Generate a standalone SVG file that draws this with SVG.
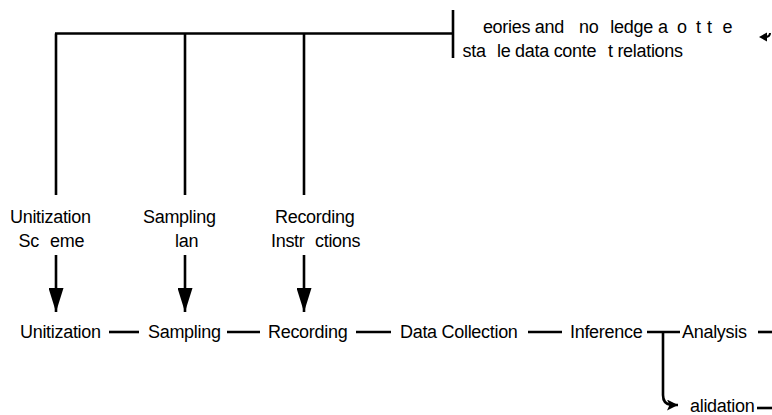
<svg xmlns="http://www.w3.org/2000/svg" width="772" height="415" viewBox="0 0 772 415">
  <style>
    text { font-family: "Liberation Sans", Arial, sans-serif; font-size: 18px; letter-spacing: -0.3px; fill: #000; }
    .ln { fill: none; stroke: #000; stroke-width: 2.6; }
  </style>
  <defs>
    <marker id="bigArrow" markerUnits="userSpaceOnUse" markerWidth="24" markerHeight="15" refX="24" refY="7.5" orient="auto" viewBox="0 0 24 15">
      <path d="M0,0 L24,7.5 L0,15 Z" fill="#000"/>
    </marker>
    <marker id="smallArrow" markerUnits="userSpaceOnUse" markerWidth="11" markerHeight="11" refX="11" refY="5.5" orient="auto" viewBox="0 0 11 11">
      <path d="M0,0 L11,5.5 L0,11 L2.5,5.5 Z" fill="#000"/>
    </marker>
  </defs>
  <rect width="772" height="415" fill="#fff"/>

  <!-- connectors -->
  <g id="connectors">
    <!-- top bus feeding the three input columns -->
    <path class="ln" d="M55,33.5 H453"/>
    <path class="ln" d="M453,10 V58"/>
    <path class="ln" d="M56,33.5 V195"/>
    <path class="ln" d="M185,33.5 V195"/>
    <path class="ln" d="M304,33.5 V195"/>
    <!-- input arrows into the process row -->
    <path class="ln" d="M56,255 V312" marker-end="url(#bigArrow)"/>
    <path class="ln" d="M185,255 V312" marker-end="url(#bigArrow)"/>
    <path class="ln" d="M304,255 V312" marker-end="url(#bigArrow)"/>
    <!-- process chain -->
    <path class="ln" d="M109,332 H139"/>
    <path class="ln" d="M227,332 H260"/>
    <path class="ln" d="M356,332 H391"/>
    <path class="ln" d="M528,332 H562"/>
    <path class="ln" d="M647,332 H680"/>
    <path class="ln" d="M758,332 H772"/>
    <!-- branch down to validation -->
    <path class="ln" d="M663,332 V395 Q663,404 671,405 L678,405" marker-end="url(#smallArrow)"/>
    <path class="ln" d="M757,408 H772"/>
    <!-- return arrow at the end of the theory line -->
    <path d="M765,37 Q770,37 770,33" fill="none" stroke="#000" stroke-width="2"/>
    <path d="M759,37 L767,32.5 L767,41.5 Z" fill="#000"/>
  </g>

  <!-- context / theory node -->
  <g id="theory">
    <text y="33"><tspan x="482.9">eories and</tspan><tspan x="579">no</tspan><tspan x="610.3">ledge</tspan><tspan x="658">a</tspan><tspan x="677">o</tspan><tspan x="696">t</tspan><tspan x="707">t</tspan><tspan x="722.5">e</tspan></text>
    <text y="57"><tspan x="462.5">sta</tspan><tspan x="497">le data conte</tspan><tspan x="608">t relations</tspan></text>
  </g>

  <!-- input nodes -->
  <g id="unitization-scheme">
    <text x="10" y="223">Unitization</text>
    <text y="247"><tspan x="18.5">Sc</tspan><tspan x="50">eme</tspan></text>
  </g>
  <g id="sampling-plan">
    <text x="143" y="223">Sampling</text>
    <text x="175" y="247">lan</text>
  </g>
  <g id="recording-instructions">
    <text x="275" y="223">Recording</text>
    <text y="247"><tspan x="271">Instr</tspan><tspan x="315">ctions</tspan></text>
  </g>

  <!-- process nodes -->
  <g id="unitization"><text x="20" y="338">Unitization</text></g>
  <g id="sampling"><text x="148" y="338">Sampling</text></g>
  <g id="recording"><text x="268" y="338">Recording</text></g>
  <g id="data-collection"><text x="400" y="338">Data Collection</text></g>
  <g id="inference"><text x="570" y="338">Inference</text></g>
  <g id="analysis"><text x="682" y="338">Analysis</text></g>
  <g id="validation"><text x="690" y="412">alidation</text></g>
</svg>
